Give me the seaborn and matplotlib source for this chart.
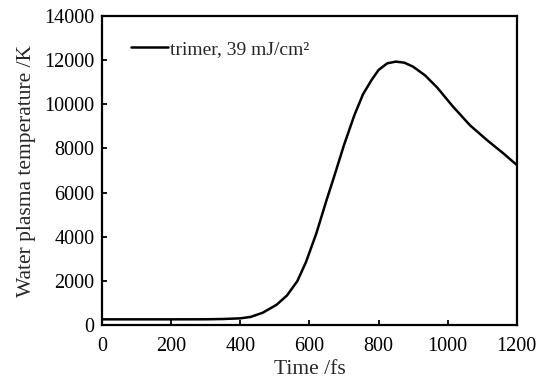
import numpy as np
import pandas as pd
import matplotlib
matplotlib.use("Agg")
import matplotlib.pyplot as plt
import seaborn as sns

# values
time_fs = [0, 100, 200, 300, 350, 400, 430, 465, 505, 535, 565, 590, 620, 650,
           670, 700, 730, 755, 780, 800, 825, 850, 875, 900, 935, 970, 1015,
           1065, 1115, 1160, 1200]
temp_k = [260, 260, 260, 262, 275, 305, 370, 560, 920, 1340, 1990, 2850, 4150,
          5680, 6650, 8150, 9500, 10450, 11100, 11550, 11850, 11930, 11880,
          11700, 11300, 10750, 9900, 9040, 8360, 7790, 7250]
series_label = "trimer, 39 mJ/cm²"
x_ticks = [0, 200, 400, 600, 800, 1000, 1200]
y_ticks = [0, 2000, 4000, 6000, 8000, 10000, 12000, 14000]

data = pd.DataFrame({"Time": time_fs, "Temp": temp_k, "series": series_label})

sns.set_style("ticks")
plt.rcParams['font.family'] = ['Liberation Serif', 'DejaVu Serif']

fig = plt.figure(figsize=(5.4, 3.78), dpi=100)
ax = fig.add_axes([0.189, 0.14, 0.768, 0.818])

sns.lineplot(data=data, x="Time", y="Temp", hue="series", palette=["black"],
             linewidth=1.8, ax=ax)

ax.set_xlim(0, 1200)
ax.set_ylim(0, 14000)
ax.set_xticks(x_ticks)
ax.set_yticks(y_ticks)
ax.set_xlabel("Time /fs", fontsize=15.5, labelpad=3)
ax.set_ylabel("Water plasma temperature /K", fontsize=15.5, labelpad=6)

for s in ax.spines.values():
    s.set_linewidth(1.6)
    s.set_color("black")
ax.tick_params(direction="in", length=3.6, width=1.3, top=False, right=False,
               labelsize=14.5, colors="black")
ax.tick_params(axis="x", pad=8.5)
ax.tick_params(axis="y", pad=5.5)

leg = ax.legend(loc="upper left", frameon=False, handlelength=1.9,
                handletextpad=0.15, fontsize=14,
                bbox_to_anchor=(0.05, 0.947), borderaxespad=0)

fig.savefig("out.png", dpi=100)
